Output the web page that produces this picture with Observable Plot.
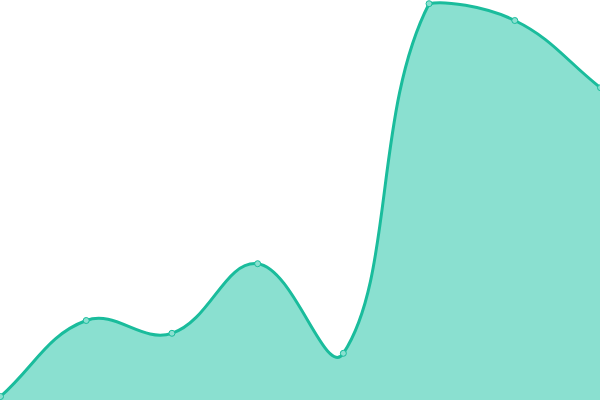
<!DOCTYPE html>
<html>
<head>
<meta charset="utf-8">
<script src="https://cdn.jsdelivr.net/npm/d3@7"></script>
<script src="https://cdn.jsdelivr.net/npm/@observablehq/plot@0.6"></script>
<style>
html, body { margin: 0; padding: 0; background: #fff; overflow: hidden; }
svg { display: block; }
</style>
</head>
<body>
<div id="chart"></div>
<script>
const indices = [0, 1, 2, 3, 4, 5, 6, 7];
const values = [1, 20, 16.8, 34.2, 11.8, 99.2, 95, 78.2];

const data = indices.map((i, k) => ({x: i, y: values[k]}));

const W = 600, H = 400;

// Spline curve with distance-weighted control points (tension 0.4), control points capped to the plot area
function splineCurve(context) {
  let pts = [], line;
  const t = 0.4;
  const cap = (v, lo, hi) => Math.max(Math.min(v, hi), lo);
  const inArea = (p) => p[0] > -0.5 && p[0] < W + 0.5 && p[1] > -0.5 && p[1] < H + 0.5;
  return {
    areaStart() { line = 0; },
    areaEnd() { line = NaN; },
    lineStart() { pts = []; },
    point(x, y) { pts.push([+x, +y]); },
    lineEnd() {
      const n = pts.length;
      if (n) {
        if (line) context.lineTo(pts[0][0], pts[0][1]);
        else context.moveTo(pts[0][0], pts[0][1]);
        const cp1 = [], cp2 = [];
        for (let i = 0; i < n; i++) {
          const prev = pts[i > 0 ? i - 1 : i];
          const cur = pts[i];
          const next = pts[i < n - 1 ? i + 1 : i];
          const d01 = Math.hypot(cur[0] - prev[0], cur[1] - prev[1]);
          const d12 = Math.hypot(next[0] - cur[0], next[1] - cur[1]);
          let s01 = d01 / (d01 + d12), s12 = d12 / (d01 + d12);
          if (isNaN(s01)) s01 = 0;
          if (isNaN(s12)) s12 = 0;
          const fa = t * s01, fb = t * s12;
          cp1[i] = [cur[0] - fa * (next[0] - prev[0]), cur[1] - fa * (next[1] - prev[1])];
          cp2[i] = [cur[0] + fb * (next[0] - prev[0]), cur[1] + fb * (next[1] - prev[1])];
        }
        for (let i = 0; i < n; i++) {
          if (!inArea(pts[i])) continue;
          if (i > 0 && inArea(pts[i - 1])) {
            cp1[i] = [cap(cp1[i][0], 0, W), cap(cp1[i][1], 0, H)];
          }
          if (i < n - 1 && inArea(pts[i + 1])) {
            cp2[i] = [cap(cp2[i][0], 0, W), cap(cp2[i][1], 0, H)];
          }
        }
        for (let i = 1; i < n; i++) {
          context.bezierCurveTo(cp2[i - 1][0], cp2[i - 1][1], cp1[i][0], cp1[i][1], pts[i][0], pts[i][1]);
        }
      }
      if (line || (line !== 0 && n === 1)) context.closePath();
      line = 1 - line;
    }
  };
}

const chart = Plot.plot({
  width: W,
  height: H,
  margin: 0,
  x: {domain: [0, 7], range: [0, W], axis: null},
  y: {domain: [0, 100], range: [H, 0], axis: null},
  marks: [
    Plot.areaY(data, {x: "x", y: "y", curve: splineCurve, fill: "#8ae0d0"}),
    Plot.line(data, {x: "x", y: "y", curve: splineCurve, stroke: "#1abc9c", strokeWidth: 3}),
    Plot.dot(data, {x: "x", y: "y", r: 3, fill: "#8ae0d0", stroke: "#1abc9c", strokeWidth: 1})
  ]
});
document.getElementById("chart").appendChild(chart);
</script>
</body>
</html>
